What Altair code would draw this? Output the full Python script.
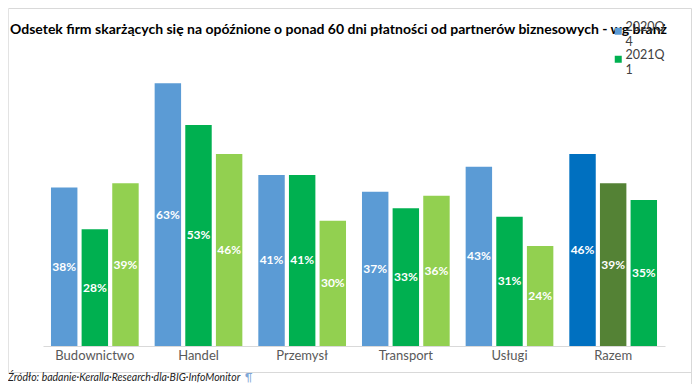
import altair as alt
import pandas as pd

categories = ["Budownictwo", "Handel", "Przemysł", "Transport", "Usługi", "Razem"]
series_names = ["2020Q4", "2021Q1", "2021Q2"]
v_2020Q4 = [38, 63, 41, 37, 43, 46]
v_2021Q1 = [28, 53, 41, 33, 31, 39]
v_2021Q2 = [39, 46, 30, 36, 24, 35]

color_keys = ["2020Q4", "2021Q1", "2021Q2", "Razem 2020Q4", "Razem 2021Q1", "Razem 2021Q2"]
color_range = ["#5B9BD5", "#00B050", "#92D050", "#0070C0", "#548235", "#00B050"]

title_text = "Odsetek firm skarżących się na opóźnione o ponad 60 dni płatności od partnerów biznesowych - wg branż"
source_text = "Źródło: badanie·Keralla·Research·dla·BIG·InfoMonitor"

rows = []
for s, vals in zip(series_names, [v_2020Q4, v_2021Q1, v_2021Q2]):
    for c, v in zip(categories, vals):
        key = ("Razem " + s) if c == "Razem" else s
        rows.append({"category": c, "series": s, "value": v, "colorKey": key})
df = pd.DataFrame(rows)
one = pd.DataFrame({"a": [0]})

FONT = "Lato"

x_enc = alt.X("category:N", sort=categories,
              scale=alt.Scale(paddingInner=0.154, paddingOuter=0.077),
              axis=alt.Axis(title=None, labelAngle=0, ticks=False, domainColor="#D9D9D9",
                            labelFontSize=13, labelColor="#595959", labelFont=FONT,
                            labelPadding=3))
xo_enc = alt.XOffset("series:N", sort=series_names,
                     scale=alt.Scale(paddingInner=0.137, paddingOuter=0))

bars = alt.Chart(df).mark_bar().encode(
    x=x_enc,
    xOffset=xo_enc,
    y=alt.Y("value:Q", scale=alt.Scale(domain=[0, 70]), axis=None),
    color=alt.Color("colorKey:N", scale=alt.Scale(domain=color_keys, range=color_range),
                    legend=alt.Legend(title=None, orient="none", legendX=569, legendY=-29,
                                      values=["2020Q4", "2021Q1"], symbolType="square",
                                      symbolSize=49, symbolStrokeWidth=0,
                                      labelFont=FONT, labelFontSize=12.5, labelColor="#404040",
                                      labelBaseline="alphabetic", labelOffset=1,
                                      labelExpr="[slice(datum.label,0,5), slice(datum.label,5)]",
                                      rowPadding=0, padding=0)),
)

labels = alt.Chart(df).transform_calculate(
    mid="datum.value / 2", lbl="datum.value + '%'"
).mark_text(color="white", font=FONT, fontSize=12, fontWeight="bold", baseline="middle").encode(
    x=x_enc,
    xOffset=xo_enc,
    y=alt.Y("mid:Q"),
    text="lbl:N",
)

title = alt.Chart(one).mark_text(text=title_text, align="left", baseline="middle", font=FONT,
                                 fontSize=14, fontWeight="bold", color="#000000",
                                 limit=682, ellipsis="").encode(
    x=alt.value(-33), y=alt.value(-24))

source = alt.Chart(one).mark_text(text=source_text, align="left", baseline="middle", font=FONT,
                                  fontSize=10.5, fontStyle="italic", color="#222222").encode(
    x=alt.value(-35), y=alt.value(323.5))
pilcrow = alt.Chart(one).mark_text(text="¶", align="left", baseline="middle", font=FONT,
                                   fontSize=10.5, color="#7FA7D6").encode(
    x=alt.value(202), y=alt.value(323.5))

frame_top = alt.Chart(one).mark_rule(color="#D9D9D9").encode(
    x=alt.value(-34.5), x2=alt.value(648.5), y=alt.value(-45.5))
frame_bottom = alt.Chart(one).mark_rule(color="#D9D9D9").encode(
    x=alt.value(-34.5), x2=alt.value(648.5), y=alt.value(318.5))
frame_left = alt.Chart(one).mark_rule(color="#E3E3E3").encode(
    x=alt.value(-34.5), y=alt.value(-45.5), y2=alt.value(318.5))
frame_right = alt.Chart(one).mark_rule(color="#D9D9D9").encode(
    x=alt.value(648.5), y=alt.value(-45.5), y2=alt.value(330))

chart = alt.layer(frame_top, frame_bottom, frame_left, frame_right, bars, labels, title,
                  source, pilcrow).properties(
    width=622, height=292,
    padding={"left": 35, "top": 46, "right": 27, "bottom": 38},
    autosize="none",
).configure_view(stroke=None)

chart.save("out.html", embed_options={"renderer": "svg", "actions": False})
